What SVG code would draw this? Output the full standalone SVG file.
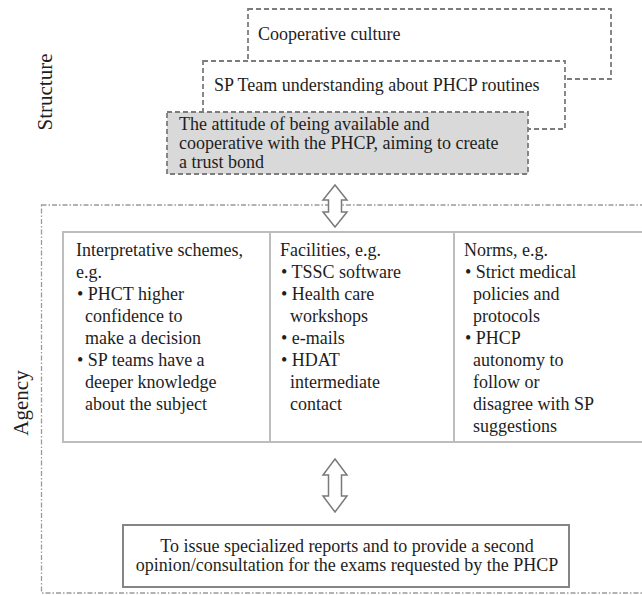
<svg xmlns="http://www.w3.org/2000/svg" width="642" height="595" viewBox="0 0 642 595" font-family="'Liberation Serif', 'Times New Roman', serif">
  <style>
    .t { font-family: "Liberation Serif", "Times New Roman", serif; font-size: 18px; fill: #1e1e1e; }
    .side { font-family: "Liberation Serif", "Times New Roman", serif; font-size: 21px; fill: #1e1e1e; }
    .dash { fill: #ffffff; stroke: #7c7c7c; stroke-width: 1.8; stroke-dasharray: 5 3; }
    .dash.shade { fill: #d9d9d9; }
    .frame { fill: none; stroke: #9a9a9a; stroke-width: 1.3; stroke-dasharray: 5 2 1.5 2; }
    .grid { fill: none; stroke: #bdbdbd; stroke-width: 2; }
    .box { fill: #ffffff; stroke: #858585; stroke-width: 2; }
    .arrow { fill: #ffffff; stroke: #7a7a7a; stroke-width: 1.5; stroke-linejoin: miter; }
  </style>
  <rect width="642" height="595" fill="#ffffff"/>

  <!-- side labels -->
  <text class="side" font-family="Liberation Serif, serif" transform="translate(52,92) rotate(-90)" text-anchor="middle">Structure</text>
  <text class="side" font-family="Liberation Serif, serif" transform="translate(28,403) rotate(-90)" text-anchor="middle">Agency</text>

  <!-- structure: stacked dashed boxes -->
  <g id="cooperative-culture" font-family="Liberation Serif, serif">
    <rect class="dash" x="248" y="9" width="363" height="70"/>
    <text class="t" x="258" y="40">Cooperative culture</text>
  </g>
  <g id="sp-team-understanding" font-family="Liberation Serif, serif">
    <rect class="dash" x="203" y="61" width="362" height="68"/>
    <text class="t" x="214" y="91">SP Team understanding about PHCP routines</text>
  </g>
  <g id="attitude" font-family="Liberation Serif, serif">
    <rect class="dash shade" x="167" y="112" width="361" height="62"/>
    <text class="t" x="179" y="130">The attitude of being available and</text>
    <text class="t" x="179" y="149">cooperative with the PHCP, aiming to create</text>
    <text class="t" x="179" y="168">a trust bond</text>
  </g>

  <!-- agency frame -->
  <g id="agency-frame">
    <rect class="frame" x="41.5" y="205" width="640" height="388"/>
  </g>

  <!-- modalities table -->
  <g id="modalities">
    <rect class="grid" x="63" y="232" width="620" height="210"/>
    <line class="grid" x1="270" y1="232" x2="270" y2="442"/>
    <line class="grid" x1="454" y1="232" x2="454" y2="442"/>
  </g>
  <g id="interpretative-schemes" font-family="Liberation Serif, serif">
    <text class="t" x="76" y="256">Interpretative schemes,</text>
    <text class="t" x="76" y="278">e.g.</text>
    <text class="t" x="77" y="300">• PHCT higher</text>
    <text class="t" x="85" y="322">confidence to</text>
    <text class="t" x="85" y="344">make a decision</text>
    <text class="t" x="77" y="366">• SP teams have a</text>
    <text class="t" x="85" y="388">deeper knowledge</text>
    <text class="t" x="85" y="410">about the subject</text>
  </g>
  <g id="facilities" font-family="Liberation Serif, serif">
    <text class="t" x="280" y="256">Facilities, e.g.</text>
    <text class="t" x="281" y="278">• TSSC software</text>
    <text class="t" x="281" y="300">• Health care</text>
    <text class="t" x="290" y="322">workshops</text>
    <text class="t" x="281" y="344">• e-mails</text>
    <text class="t" x="281" y="366">• HDAT</text>
    <text class="t" x="290" y="388">intermediate</text>
    <text class="t" x="290" y="410">contact</text>
  </g>
  <g id="norms" font-family="Liberation Serif, serif">
    <text class="t" x="464" y="256">Norms, e.g.</text>
    <text class="t" x="465" y="278">• Strict medical</text>
    <text class="t" x="473" y="300">policies and</text>
    <text class="t" x="473" y="322">protocols</text>
    <text class="t" x="465" y="344">• PHCP</text>
    <text class="t" x="473" y="366">autonomy to</text>
    <text class="t" x="473" y="388">follow or</text>
    <text class="t" x="473" y="410">disagree with SP</text>
    <text class="t" x="473" y="432">suggestions</text>
  </g>

  <!-- interaction -->
  <g id="interaction" font-family="Liberation Serif, serif">
    <rect class="box" x="123" y="525" width="446" height="62"/>
    <text class="t" x="347" y="552" text-anchor="middle">To issue specialized reports and to provide a second</text>
    <text class="t" x="347" y="571" text-anchor="middle">opinion/consultation for the exams requested by the PHCP</text>
  </g>

  <!-- connectors: hollow double-headed arrows -->
  <g id="connectors">
    <path class="arrow" d="M335,185 L347,200 L341.5,200 L341.5,212 L347,212 L335,227 L323,212 L328.5,212 L328.5,200 L323,200 Z"/>
    <path class="arrow" d="M335,459 L347,475 L341.5,475 L341.5,496 L347,496 L335,512 L323,496 L328.5,496 L328.5,475 L323,475 Z"/>
  </g>
</svg>
